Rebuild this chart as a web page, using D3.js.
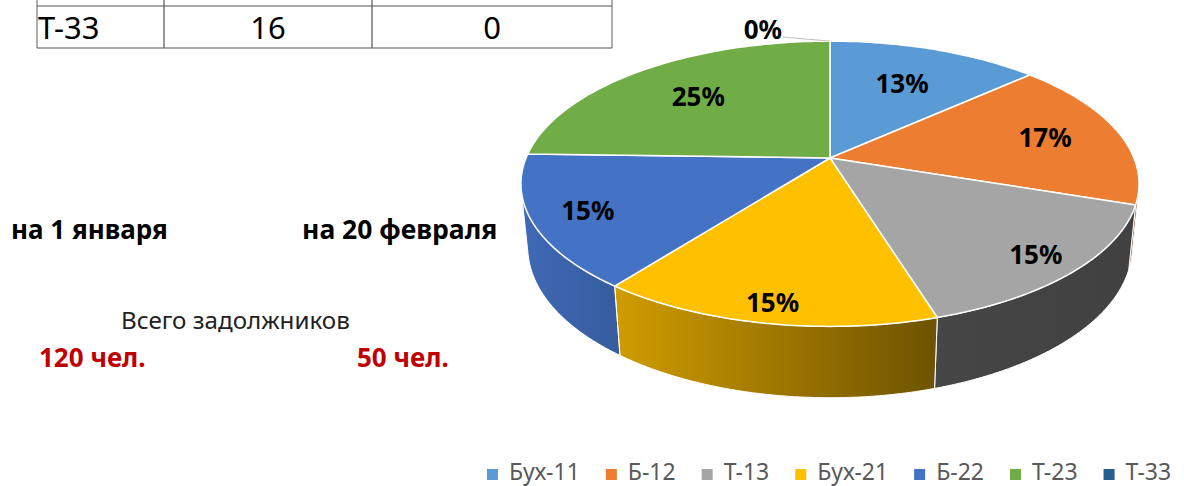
<!DOCTYPE html>
<html>
<head>
<meta charset="utf-8">
<script src="https://cdn.jsdelivr.net/npm/d3@7"></script>
<style>
  body { margin: 0; background: #fff; }
  svg { display: block; }
  text { font-family: "Noto Sans", "DejaVu Sans", sans-serif; }
</style>
</head>
<body>
<svg id="chart"></svg>
<script>
// data
const groups = ["Бух-11", "Б-12", "Т-13", "Бух-21", "Б-22", "Т-23", "Т-33"];
const debtorsFeb20 = [7, 9, 8, 8, 8, 13, 0];
const groupColors = ["#5b9bd5", "#ed7d31", "#a5a5a5", "#ffc000", "#4472c4", "#70ad47", "#255e91"];
const tableRow = ["Т-33", "16", "0"];
const dateLabels = ["на 1 января", "на 20 февраля"];
const totalCaption = "Всего задолжников";
const totals = ["120 чел.", "50 чел."];

const w = 1184, h = 486;
const svg = d3.select("#chart").attr("width", w).attr("height", h);

// ---- table fragment (top-left) ----
const colX = [37, 164, 372, 612];
const rowTop = 6, rowBottom = 48;
const tbl = svg.append("g");
tbl.selectAll("line.v").data(colX).join("line")
    .attr("x1", d => d).attr("x2", d => d)
    .attr("y1", 0).attr("y2", rowBottom)
    .attr("stroke", (d, i) => (i === 0 || i === colX.length - 1) ? "#9a9a9a" : "#333")
    .attr("stroke-width", (d, i) => (i === 0 || i === colX.length - 1) ? 1.6 : 1);
tbl.selectAll("line.h").data([rowTop, rowBottom]).join("line")
    .attr("x1", colX[0]).attr("x2", colX[3])
    .attr("y1", d => d).attr("y2", d => d)
    .attr("stroke", "#555").attr("stroke-width", 1.2);
tbl.selectAll("text").data(tableRow).join("text")
    .attr("x", (d, i) => i === 0 ? colX[0] + 1 : (colX[i] + colX[i + 1]) / 2)
    .attr("y", 39)
    .attr("text-anchor", (d, i) => i === 0 ? "start" : "middle")
    .attr("font-size", 31)
    .attr("fill", "#000")
    .text(d => d);

// ---- left texts ----
svg.selectAll("text.date").data(dateLabels).join("text")
    .attr("class", "date")
    .attr("x", (d, i) => i === 0 ? 11 : 302)
    .attr("y", 239)
    .attr("font-size", (d, i) => i === 0 ? 26 : 26.5)
    .attr("font-weight", "bold").attr("fill", "#000")
    .text(d => d);
svg.append("text")
    .attr("x", 121).attr("y", 329)
    .attr("font-size", 24.2).attr("fill", "#222")
    .text(totalCaption);
svg.selectAll("text.total").data(totals).join("text")
    .attr("class", "total")
    .attr("x", (d, i) => i === 0 ? 39 : 357)
    .attr("y", 367)
    .attr("font-size", 26).attr("font-weight", "bold").attr("fill", "#c00000")
    .text(d => d);

// ---- 3D pie ----
const cx = 830, cy = 158;
const tilt = 27 * Math.PI / 180, sT = Math.sin(tilt), cT = Math.cos(tilt);
const camDist = 4.935, focal = 1500, thick = 0.235;

// theta clockwise from the back (12 o'clock), r on unit disk, yy height (0 top)
function project(theta, r, yy) {
    const X = r * Math.sin(theta), Z = -r * Math.cos(theta);
    const u = yy * cT - Z * sT;
    const d = camDist - (yy * sT + Z * cT);
    return [cx + focal * X / d, cy - focal * u / d];
}
function arcPts(a0, a1, yy) {
    const n = Math.max(2, Math.ceil(Math.abs(a1 - a0) / 0.02));
    return d3.range(n + 1).map(i => project(a0 + (a1 - a0) * i / n, 1, yy));
}

const pie = d3.pie().sort(null).value(d => d)(debtorsFeb20);
const total = d3.sum(debtorsFeb20);
const pct = d3.format(".0%");
const line = d3.line();

// visible part of the outer wall
const k = 1 / (camDist * cT);
const visA = Math.acos(-k), visB = 2 * Math.PI - Math.acos(-k);

const defs = svg.append("defs");
const grad = defs.append("linearGradient").attr("id", "wallShade")
    .attr("gradientUnits", "userSpaceOnUse")
    .attr("x1", 525).attr("x2", 1137).attr("y1", 0).attr("y2", 0);
[[0, 0.08], [0.686, 0.58], [1, 0.61]].forEach(([o, a]) =>
    grad.append("stop").attr("offset", o).attr("stop-color", "#000").attr("stop-opacity", a));

const pieG = svg.append("g");
const walls = pie.map((p, i) => {
    const a0 = Math.max(p.startAngle, visA), a1 = Math.min(p.endAngle, visB);
    if (a1 <= a0) return null;
    const pts = arcPts(a0, a1, 0).concat(arcPts(a1, a0, -thick));
    return { i, path: line(pts) + "Z" };
}).filter(d => d);

pieG.selectAll("path.wall").data(walls).join("path")
    .attr("d", d => d.path).attr("fill", d => groupColors[d.i]);
pieG.selectAll("path.shade").data(walls).join("path")
    .attr("d", d => d.path).attr("fill", "url(#wallShade)")
    .attr("stroke", "#fff").attr("stroke-width", 1);

pieG.selectAll("path.top").data(pie.filter(p => p.value > 0)).join("path")
    .attr("d", p => line([[cx, cy]].concat(arcPts(p.startAngle, p.endAngle, 0))) + "Z")
    .attr("fill", p => groupColors[p.index])
    .attr("stroke", "#fff").attr("stroke-width", 1.5).attr("stroke-linejoin", "round");

// labels: front slices get their label pushed further out, like Excel does
pie.forEach(p => {
    const txt = pct(p.value / total);
    if (p.value > 0) {
        const mid = (p.startAngle + p.endAngle) / 2;
        const r = 0.77 - 0.13 * Math.cos(mid);
        const [lx, ly] = project(mid, r, 0);
        pieG.append("text")
            .attr("x", lx).attr("y", ly).attr("dy", "0.36em")
            .attr("text-anchor", "middle")
            .attr("font-size", 26).attr("font-weight", "bold").attr("fill", "#000")
            .text(txt);
    } else {
        const [tx, ty] = project(p.startAngle, 1, 0);
        pieG.append("line")
            .attr("x1", tx - 47).attr("y1", ty - 4).attr("x2", tx).attr("y2", ty)
            .attr("stroke", "#bfbfbf").attr("stroke-width", 1);
        pieG.append("text")
            .attr("x", tx - 48).attr("y", ty - 2)
            .attr("text-anchor", "end")
            .attr("font-size", 26).attr("font-weight", "bold").attr("fill", "#000")
            .text(txt);
    }
});

// ---- legend ----
const legend = svg.append("g");
let lx = 487;
groups.forEach((g, i) => {
    legend.append("rect")
        .attr("x", lx).attr("y", 469).attr("width", 11).attr("height", 11)
        .attr("fill", groupColors[i]);
    const t = legend.append("text")
        .attr("x", lx + 22).attr("y", 480)
        .attr("font-size", 23).attr("fill", "#595959")
        .text(g);
    lx += 22 + t.node().getComputedTextLength() + 26;
});
</script>
</body>
</html>
